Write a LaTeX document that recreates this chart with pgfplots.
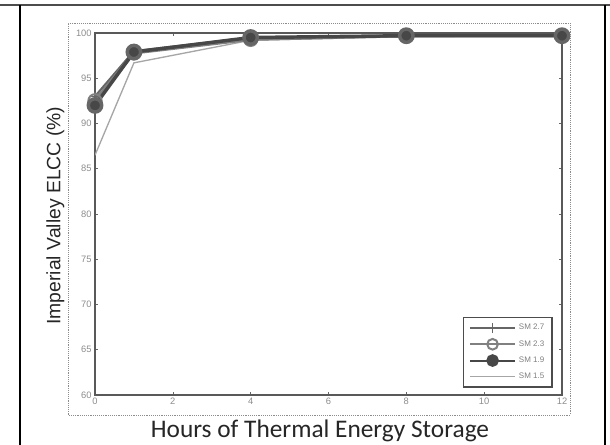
\documentclass[border=0pt]{standalone}
\usepackage{pgfplots}
\pgfplotsset{compat=1.18}
\usepackage{fontspec}
\setmainfont{Carlito}
\newfontfamily\arialf{Liberation Sans}
\begin{document}
\begin{tikzpicture}
\useasboundingbox (0,0) rectangle (457.5pt,333.75pt);
% page/cell frame
\draw[black!70, line width=1.2pt] (0,330pt) -- (457.5pt,330pt);
\draw[black, line width=2.2pt] (15pt,330pt) -- (15pt,0);
\draw[black, line width=2.2pt] (453.75pt,330pt) -- (453.75pt,0);
% dotted figure frame
\draw[black!45, densely dotted, line width=0.4pt] (51pt,22.5pt) rectangle (427.5pt,316.5pt);
\begin{axis}[
  at={(71.25pt,37.5pt)}, anchor=south west,
  scale only axis, width=350.25pt, height=271.5pt,
  xmin=0, xmax=12, ymin=60, ymax=100,
  xtick={0,2,...,12}, ytick={60,65,...,100},
  axis line style={black!65, line width=1.6pt},
  tick style={black!60, line width=0.4pt},
  major tick length=2.5pt,
  tick align=inside,
  ticklabel style={font=\arialf\fontsize{7}{8}\selectfont, text=black!45},
  /pgf/number format/assume math mode=true,
  xticklabel style={yshift=1pt},
  yticklabel style={xshift=1pt},
]
\addplot[black!35, line width=1pt] coordinates {(0,86.5) (1,96.7) (4,99.2) (8,99.6) (12,99.7)};
\addplot[black!60, line width=1.6pt, mark=+, mark size=3.5pt, mark options={line width=1pt}] coordinates {(0,93.0) (1,98.0) (4,99.5) (8,99.7) (12,99.7)};
\addplot[black!50, line width=2.4pt, mark=o, mark size=5pt, mark options={line width=1.5pt, fill=black!35}] coordinates {(0,92.5) (1,97.8) (4,99.3) (8,99.7) (12,99.7)};
\addplot[black!72, line width=2.6pt, mark=*, mark size=5pt, mark options={fill=black!72, draw=black!60}] coordinates {(0,92.0) (1,97.9) (4,99.5) (8,99.7) (12,99.7)};
\end{axis}
\begin{axis}[
  at={(71.25pt,37.5pt)}, anchor=south west,
  scale only axis, width=350.25pt, height=271.5pt,
  xmin=0, xmax=12, ymin=60, ymax=100, hide axis,
  legend cell align=left,
  legend style={at={(0.981,0.019)}, anchor=south east,
    draw=black!70, line width=1.3pt,
    font=\arialf\fontsize{6}{7}\selectfont, text=black!50,
    row sep=2.5pt, inner xsep=4pt, inner ysep=3pt},
  legend image code/.code={\draw[mark repeat=2,mark phase=2] plot coordinates {(0pt,0pt)(17pt,0pt)(34pt,0pt)};},
]
\addlegendimage{black!60, line width=1.2pt, mark=+, mark size=3.5pt}
\addlegendentry{SM 2.7}
\addlegendimage{black!50, line width=1.5pt, mark=o, mark size=4pt, mark options={fill=black!35}}
\addlegendentry{SM 2.3}
\addlegendimage{black!72, line width=1.5pt, mark=*, mark size=4pt}
\addlegendentry{SM 1.9}
\addlegendimage{black!35, line width=0.8pt}
\addlegendentry{SM 1.5}
\end{axis}
\node[font=\fontsize{19}{21}\selectfont, text=black!85] at (240pt,10.5pt) {Hours of Thermal Energy Storage};
\node[font=\arialf\fontsize{14.5}{16}\selectfont, text=black!85, rotate=90] at (41.5pt,172pt) {Imperial Valley ELCC (\%)};
\end{tikzpicture}
\end{document}
